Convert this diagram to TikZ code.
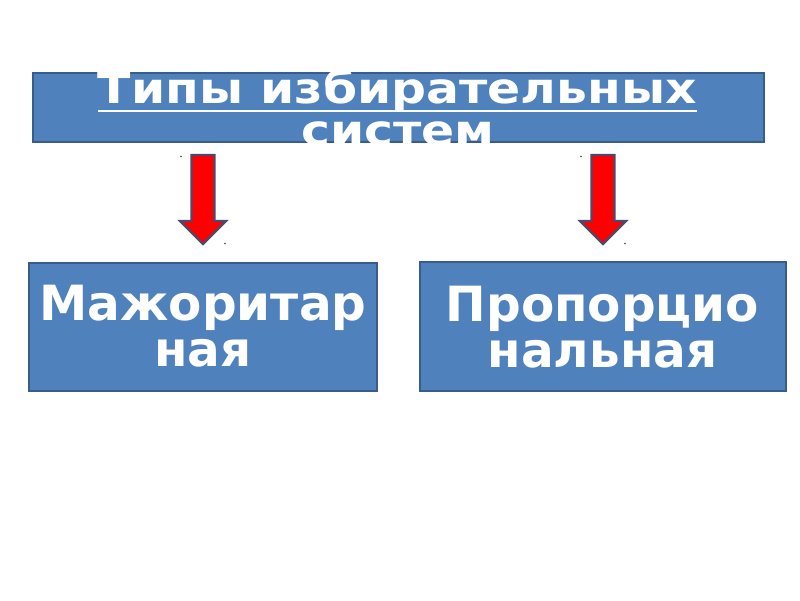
\documentclass[tikz,border=0pt]{standalone}
\usepackage{fontspec}
\setmainfont{DejaVu Sans}
\newfontfamily\titlefont[FakeStretch=1.15]{DejaVu Sans}
\definecolor{boxfill}{HTML}{4F81BD}
\definecolor{boxline}{HTML}{385D8A}
\definecolor{arrline}{HTML}{4A4A6A}
\definecolor{dotc}{HTML}{404040}
\newcommand\myul[1]{\setbox0\hbox{#1}\rlap{\raisebox{-9pt}{\rule{\wd0}{2.5pt}}}\box0}
\tikzset{
  bluebox/.style={draw=boxline, fill=boxfill, line width=2pt, rectangle, inner sep=0pt},
  lowertext/.style={text=white, font=\bfseries\fontsize{48.5}{46}\selectfont, align=center},
  titletext/.style={text=white, font=\titlefont\bfseries\fontsize{42.5}{41.7}\selectfont, inner sep=0pt, anchor=base},
  redarrow/.style={fill=red, draw=arrline, line width=2.2pt, line join=miter},
  tinydot/.style={fill=dotc, draw=none}
}
\begin{document}
\begin{tikzpicture}[x=1pt, y=-1pt]
\useasboundingbox (0,0) rectangle (800,600);
\fill[white] (0,0) rectangle (800,600);
% title box
\node[bluebox, minimum width=731pt, minimum height=69pt] (title) at (398.5,107.5) {};
\node[titletext] (titleA) at (397.5,103.3) {\myul{Типы избирательных}};
\node[titletext] (titleB) at (398,145) {систем};
% lower boxes
\node[bluebox, lowertext, minimum width=348pt, minimum height=128pt] (major) at (203,326.5) {Мажоритар\\ная};
\node[bluebox, lowertext, minimum width=366pt, minimum height=129pt] (prop) at (602.5,326.8) {Пропорцио\\нальная};
% arrows
\coordinate (la) at (203,155);
\coordinate (ra) at (603,155);
\foreach \c in {la,ra}{
  \draw[redarrow] ([xshift=-11.5pt]\c) -- ([xshift=11.5pt]\c) -- ([xshift=11.5pt,yshift=-66pt]\c)
    -- ([xshift=23pt,yshift=-66pt]\c) -- ([yshift=-89pt]\c) -- ([xshift=-23pt,yshift=-66pt]\c)
    -- ([xshift=-11.5pt,yshift=-66pt]\c) -- cycle;
  \fill[tinydot] ([xshift=-22pt,yshift=-1.5pt]\c) circle (0.8pt);
  \fill[tinydot] ([xshift=22pt,yshift=-88.5pt]\c) circle (0.8pt);
}
\end{tikzpicture}
\end{document}
